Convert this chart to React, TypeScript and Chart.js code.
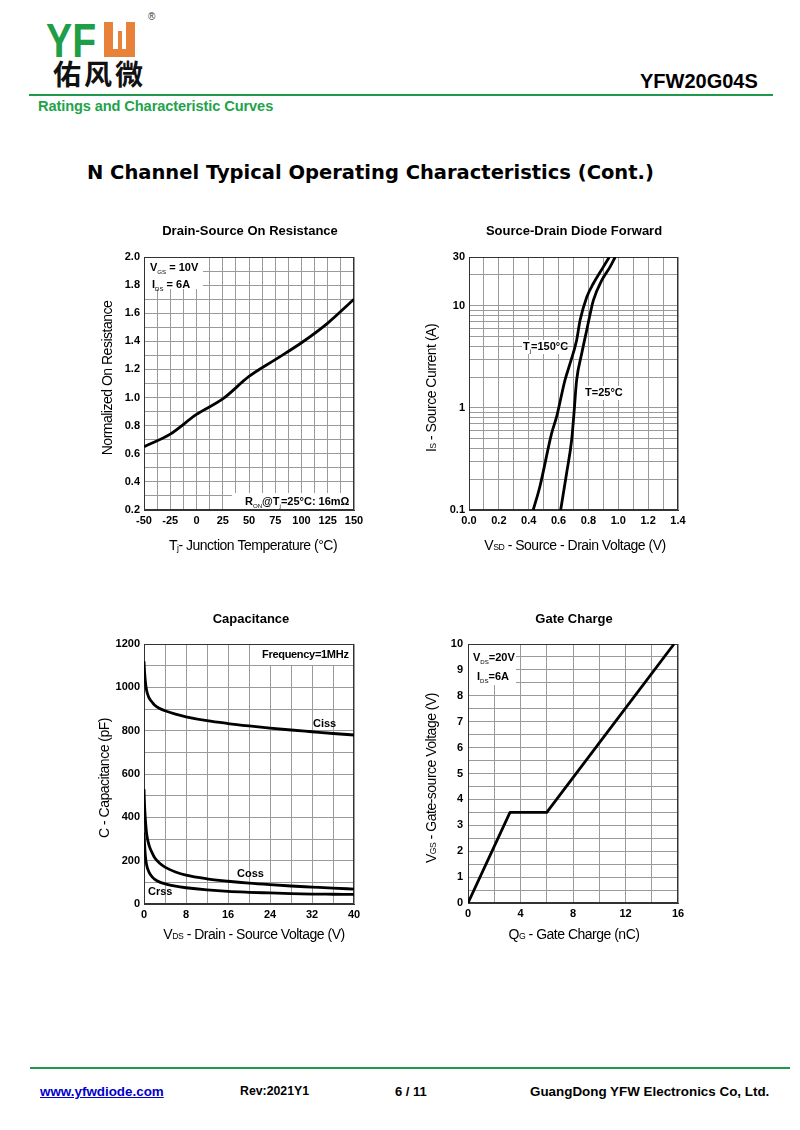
import React, { useEffect, useRef } from 'react';
import { Chart, registerables } from 'chart.js';

Chart.register(...registerables);

const FONT = '"Liberation Sans", Arial, Helvetica, sans-serif';
const GRID = '#9a9a9a';
const GREEN = '#1e9a4b';

// ---------- Chart 1: Drain-Source On Resistance ----------
const ronTemperature = [-50, -25, 0, 25, 50, 75, 100, 125, 150];
const ronNormalized = [0.65, 0.74, 0.88, 0.99, 1.15, 1.27, 1.39, 1.53, 1.7];
const ronXTickLabels = ['-50', '-25', '0', '25', '50', '75', '100', '125', '150'];
const ronYTickLabels = ['0.2', '0.4', '0.6', '0.8', '1.0', '1.2', '1.4', '1.6', '1.8', '2.0'];

// ---------- Chart 2: Source-Drain Diode Forward ----------
const diodeV150 = [0.43, 0.475, 0.553, 0.587, 0.643, 0.677, 0.721, 0.744, 0.789, 0.833, 0.9, 0.94];
const diodeI150 = [0.1, 0.17, 0.56, 0.82, 1.87, 2.72, 4.6, 7.2, 12.2, 16.5, 24, 30];
const diodeV25 = [0.614, 0.654, 0.688, 0.703, 0.721, 0.755, 0.789, 0.833, 0.889, 0.945, 0.979];
const diodeI25 = [0.1, 0.23, 0.49, 0.88, 1.87, 3.4, 5.8, 11.3, 17.7, 24, 30];
const diodeXTickLabels = ['0.0', '0.2', '0.4', '0.6', '0.8', '1.0', '1.2', '1.4'];
const diodeYTickLabels = ['0.1', '1', '10', '30'];
const diodeYGrid = [0.1, 0.2, 0.3, 0.4, 0.5, 0.6, 0.7, 0.8, 0.9, 1, 2, 3, 4, 5, 6, 7, 8, 9, 10, 20, 30];

// ---------- Chart 3: Capacitance ----------
const capVds = [0, 0.1, 0.25, 0.5, 1, 1.6, 2, 3, 4, 6, 8, 12, 16, 20, 24, 28, 32, 36, 40];
const capCiss = [1120, 1075, 1030, 985, 950, 930, 918, 902, 892, 876, 864, 846, 833, 822, 812, 803, 795, 787, 780];
const capCoss = [530, 460, 395, 325, 268, 234, 215, 188, 170, 148, 133, 116, 105, 96, 89, 83, 78, 73, 69];
const capCrss = [330, 280, 225, 180, 145, 124, 115, 101, 93, 82, 75, 65, 58, 54, 51, 48, 46, 45, 44];
const capXTickLabels = ['0', '8', '16', '24', '32', '40'];
const capYTickLabels = ['0', '200', '400', '600', '800', '1000', '1200'];

// ---------- Chart 4: Gate Charge ----------
const gateQ = [0, 3.2, 6.0, 15.7];
const gateV = [0, 3.5, 3.5, 10];
const gateXTickLabels = ['0', '4', '8', '12', '16'];
const gateYTickLabels = ['0', '1', '2', '3', '4', '5', '6', '7', '8', '9', '10'];

type Seg = { t: string; sub?: boolean };
type TextItem = {
  segs: Seg[];
  x: number;
  y: number;
  size: number;
  bold?: boolean;
  rotate?: boolean;
  align?: 'left' | 'center';
  spacing?: number;
  subScale?: number;
  subDy?: number;
};
type Box = [number, number, number, number];

type AxisSpec = {
  min: number;
  max: number;
  grid: number[];
  labels: string[];
  log?: boolean;
  pad: number;
};

type DS = { x: number[]; y: number[]; smooth?: boolean };

type PlotSpec = {
  left: number;
  top: number;
  width: number;
  height: number;
  plot: { l: number; t: number; r: number; b: number };
  x: AxisSpec;
  y: AxisSpec;
  datasets: DS[];
  boxes: Box[];
  texts: TextItem[];
};

function steps(min: number, max: number, step: number): number[] {
  const out: number[] = [];
  const n = Math.round((max - min) / step);
  for (let i = 0; i <= n; i++) out.push(Math.round((min + i * step) * 1e6) / 1e6);
  return out;
}

function labelFor(labels: string[], v: number): string {
  for (const l of labels) {
    if (Math.abs(parseFloat(l) - v) < 1e-6) return l;
  }
  return '';
}

function drawRich(ctx: CanvasRenderingContext2D, it: TextItem, ox: number, oy: number) {
  const size = it.size;
  const subScale = it.subScale ?? 0.62;
  const subDy = it.subDy ?? size * 0.3;
  const fontOf = (sub: boolean) =>
    `${it.bold && !sub ? 'bold ' : ''}${sub ? Math.round(size * subScale * 10) / 10 : size}px ${FONT}`;
  ctx.save();
  (ctx as any).letterSpacing = `${it.spacing ?? 0}px`;
  ctx.translate(it.x - ox, it.y - oy);
  if (it.rotate) ctx.rotate(-Math.PI / 2);
  const widths = it.segs.map((s) => {
    ctx.font = fontOf(!!s.sub);
    return ctx.measureText(s.t).width;
  });
  const total = widths.reduce((a, b) => a + b, 0);
  let cx = it.align === 'center' ? -total / 2 : 0;
  ctx.textBaseline = 'middle';
  ctx.textAlign = 'left';
  ctx.fillStyle = '#000';
  it.segs.forEach((s, i) => {
    ctx.font = fontOf(!!s.sub);
    ctx.fillText(s.t, cx, s.sub ? subDy : 0);
    cx += widths[i];
  });
  ctx.restore();
}

function buildAxis(a: AxisSpec, isX: boolean, spec: PlotSpec) {
  return {
    type: a.log ? 'logarithmic' : 'linear',
    min: a.min,
    max: a.max,
    afterBuildTicks: (s: any) => {
      s.ticks = a.grid.map((v) => ({ value: v }));
    },
    afterFit: (s: any) => {
      if (isX) s.height = spec.top + spec.height - spec.plot.b;
      else s.width = spec.plot.l - spec.left;
    },
    grid: { color: GRID, lineWidth: 1, drawTicks: false },
    border: { display: true, color: '#333', width: 1 },
    ticks: {
      autoSkip: false,
      maxRotation: 0,
      minRotation: 0,
      padding: a.pad,
      color: '#000',
      font: { family: FONT, size: 11, weight: 'bold' },
      callback: (v: any) => labelFor(a.labels, Number(v)),
    },
  };
}

function PlotCanvas({ spec }: { spec: PlotSpec }) {
  const ref = useRef<HTMLCanvasElement | null>(null);
  useEffect(() => {
    if (!ref.current) return;
    const overlay = {
      id: 'overlay',
      beforeDatasetsDraw(chart: any) {
        const ctx = chart.ctx as CanvasRenderingContext2D;
        ctx.save();
        ctx.fillStyle = '#fff';
        spec.boxes.forEach(([x1, y1, x2, y2]) => {
          ctx.fillRect(x1 - spec.left, y1 - spec.top, x2 - x1, y2 - y1);
        });
        const ca = chart.chartArea;
        ctx.strokeStyle = '#333';
        ctx.lineWidth = 1;
        ctx.strokeRect(Math.round(ca.left) + 0.5, Math.round(ca.top) + 0.5, Math.round(ca.right - ca.left) - 1, Math.round(ca.bottom - ca.top) - 1);
        ctx.restore();
      },
      afterDatasetsDraw(chart: any) {
        const ctx = chart.ctx as CanvasRenderingContext2D;
        spec.texts.forEach((t) => drawRich(ctx, t, spec.left, spec.top));
      },
    };
    const cfg: any = {
      type: 'line',
      data: {
        datasets: spec.datasets.map((d) => ({
          data: d.x.map((xv, i) => ({ x: xv, y: d.y[i] })),
          borderColor: '#000',
          borderWidth: 2.8,
          pointRadius: 0,
          fill: false,
          tension: d.smooth ? 0.4 : 0,
          cubicInterpolationMode: d.smooth ? 'monotone' : 'default',
          borderJoinStyle: 'round',
        })),
      },
      options: {
        responsive: false,
        animation: false,
        devicePixelRatio: 1,
        events: [],
        layout: {
          padding: {
            left: 0,
            top: spec.plot.t - spec.top,
            right: spec.left + spec.width - spec.plot.r,
            bottom: 0,
          },
        },
        plugins: {
          legend: { display: false },
          tooltip: { enabled: false },
          title: { display: false },
        },
        scales: {
          x: buildAxis(spec.x, true, spec),
          y: buildAxis(spec.y, false, spec),
        },
      },
      plugins: [overlay],
    };
    const chart = new Chart(ref.current, cfg);
    return () => chart.destroy();
  }, [spec]);
  return (
    <canvas
      ref={ref}
      width={spec.width}
      height={spec.height}
      style={{ position: 'absolute', left: spec.left, top: spec.top, width: spec.width, height: spec.height }}
    />
  );
}

const TITLE_SIZE = 13;
const AX_SIZE = 14;
const AX_SP = -0.5;

const ronSpec: PlotSpec = {
  left: 90,
  top: 215,
  width: 300,
  height: 350,
  plot: { l: 144, t: 257, r: 354, b: 510 },
  x: { min: -50, max: 150, grid: steps(-50, 150, 12.5), labels: ronXTickLabels, pad: 4 },
  y: { min: 0.2, max: 2.0, grid: steps(0.2, 2.0, 0.1), labels: ronYTickLabels, pad: 4 },
  datasets: [{ x: ronTemperature, y: ronNormalized, smooth: true }],
  boxes: [
    [145, 258, 203, 289],
    [232, 493, 353, 509],
  ],
  texts: [
    { segs: [{ t: 'Drain-Source On Resistance' }], x: 250, y: 231, size: TITLE_SIZE, bold: true, align: 'center' },
    { segs: [{ t: 'T' }, { t: 'j', sub: true }, { t: '- Junction Temperature (°C)' }], x: 253, y: 546, size: AX_SIZE, align: 'center', spacing: AX_SP, subDy: 3 },
    { segs: [{ t: 'Normalized On Resistance' }], x: 108, y: 378, size: AX_SIZE, align: 'center', rotate: true, spacing: AX_SP },
    { segs: [{ t: 'V' }, { t: 'GS', sub: true }, { t: ' = 10V' }], x: 150, y: 268, size: 11, bold: true, subScale: 0.55, subDy: 4 },
    { segs: [{ t: 'I' }, { t: 'DS', sub: true }, { t: ' = 6A' }], x: 152, y: 285, size: 11, bold: true, subScale: 0.55, subDy: 4 },
    { segs: [{ t: 'R' }, { t: 'ON', sub: true }, { t: '@T' }, { t: 'j', sub: true }, { t: '=25°C: 16mΩ' }], x: 245, y: 502, size: 11, bold: true, subScale: 0.55, subDy: 4 },
  ],
};

const diodeSpec: PlotSpec = {
  left: 410,
  top: 215,
  width: 300,
  height: 350,
  plot: { l: 469, t: 257, r: 678, b: 510 },
  x: { min: 0, max: 1.4, grid: steps(0, 1.4, 0.1), labels: diodeXTickLabels, pad: 4 },
  y: { min: 0.1, max: 30, grid: diodeYGrid, labels: diodeYTickLabels, log: true, pad: 4 },
  datasets: [
    { x: diodeV150, y: diodeI150, smooth: true },
    { x: diodeV25, y: diodeI25, smooth: true },
  ],
  boxes: [
    [522, 340, 563, 354],
    [584, 386, 624, 400],
  ],
  texts: [
    { segs: [{ t: 'Source-Drain Diode Forward' }], x: 574, y: 231, size: TITLE_SIZE, bold: true, align: 'center' },
    { segs: [{ t: 'V' }, { t: 'SD', sub: true }, { t: ' - Source - Drain Voltage (V)' }], x: 575, y: 546, size: AX_SIZE, align: 'center', spacing: AX_SP, subDy: 2 },
    { segs: [{ t: 'I' }, { t: 'S', sub: true }, { t: ' - Source Current (A)' }], x: 432, y: 388, size: AX_SIZE, align: 'center', rotate: true, spacing: AX_SP, subDy: 2 },
    { segs: [{ t: 'T' }, { t: 'j', sub: true }, { t: '=150°C' }], x: 523, y: 347, size: 11, bold: true, subScale: 0.55, subDy: 4 },
    { segs: [{ t: 'T=25°C' }], x: 585, y: 393, size: 11, bold: true },
  ],
};

const capSpec: PlotSpec = {
  left: 90,
  top: 600,
  width: 300,
  height: 350,
  plot: { l: 144, t: 644, r: 354, b: 904 },
  x: { min: 0, max: 40, grid: steps(0, 40, 4), labels: capXTickLabels, pad: 4 },
  y: { min: 0, max: 1200, grid: steps(0, 1200, 100), labels: capYTickLabels, pad: 4 },
  datasets: [
    { x: capVds, y: capCiss, smooth: true },
    { x: capVds, y: capCoss, smooth: true },
    { x: capVds, y: capCrss, smooth: true },
  ],
  boxes: [[257, 645, 353, 665]],
  texts: [
    { segs: [{ t: 'Capacitance' }], x: 251, y: 619, size: TITLE_SIZE, bold: true, align: 'center' },
    { segs: [{ t: 'V' }, { t: 'DS', sub: true }, { t: ' - Drain - Source Voltage (V)' }], x: 254, y: 935, size: AX_SIZE, align: 'center', spacing: AX_SP, subDy: 2 },
    { segs: [{ t: 'C - Capacitance (pF)' }], x: 105, y: 778, size: AX_SIZE, align: 'center', rotate: true, spacing: AX_SP },
    { segs: [{ t: 'Frequency=1MHz' }], x: 262, y: 655, size: 11, bold: true, spacing: -0.3 },
    { segs: [{ t: 'Ciss' }], x: 313, y: 724, size: 11, bold: true },
    { segs: [{ t: 'Coss' }], x: 237, y: 874, size: 11, bold: true },
    { segs: [{ t: 'Crss' }], x: 148, y: 892, size: 11, bold: true },
  ],
};

const gateSpec: PlotSpec = {
  left: 410,
  top: 600,
  width: 300,
  height: 350,
  plot: { l: 468, t: 644, r: 678, b: 903 },
  x: { min: 0, max: 16, grid: steps(0, 16, 2), labels: gateXTickLabels, pad: 4 },
  y: { min: 0, max: 10, grid: steps(0, 10, 0.5), labels: gateYTickLabels, pad: 5 },
  datasets: [{ x: gateQ, y: gateV }],
  boxes: [[469, 645, 516, 685]],
  texts: [
    { segs: [{ t: 'Gate Charge' }], x: 574, y: 619, size: TITLE_SIZE, bold: true, align: 'center' },
    { segs: [{ t: 'Q' }, { t: 'G', sub: true }, { t: ' - Gate Charge (nC)' }], x: 574, y: 935, size: AX_SIZE, align: 'center', spacing: AX_SP, subDy: 2 },
    { segs: [{ t: 'V' }, { t: 'GS', sub: true }, { t: ' - Gate-source Voltage (V)' }], x: 432, y: 778, size: AX_SIZE, align: 'center', rotate: true, spacing: AX_SP, subDy: 2 },
    { segs: [{ t: 'V' }, { t: 'DS', sub: true }, { t: '=20V' }], x: 473, y: 658, size: 11, bold: true, subScale: 0.55, subDy: 4 },
    { segs: [{ t: 'I' }, { t: 'DS', sub: true }, { t: '=6A' }], x: 477, y: 677, size: 11, bold: true, subScale: 0.55, subDy: 4 },
  ],
};

const abs = (s: React.CSSProperties): React.CSSProperties => ({ position: 'absolute', margin: 0, lineHeight: 1, whiteSpace: 'nowrap', ...s });

export default function App() {
  return (
    <div style={abs({ left: 0, top: 0, width: 800, height: 1130, background: '#fff', fontFamily: FONT, overflow: 'hidden' })}>
      {/* Logo */}
      <div style={abs({ left: 46, top: 15.5, fontSize: 49, fontWeight: 700, color: '#1f9e48', transform: 'scaleX(0.8)', transformOrigin: 'left top' })}>YF</div>
      <div style={abs({ left: 104, top: 22, width: 31, height: 35, background: '#e8823a' })} />
      <div style={abs({ left: 113, top: 22, width: 5, height: 27, background: '#fff' })} />
      <div style={abs({ left: 122, top: 22, width: 4, height: 27, background: '#fff' })} />
      <div style={abs({ left: 118, top: 22, width: 4, height: 9, background: '#fff' })} />
      <div style={abs({ left: 148, top: 12, fontSize: 10, color: '#333' })}>®</div>
      <div style={abs({ left: 53, top: 59, fontSize: 28, fontWeight: 700, letterSpacing: 3, fontFamily: '"Noto Sans CJK SC", sans-serif', color: '#111' })}>佑风微</div>

      <div style={abs({ left: 640, top: 70.5, fontSize: 20, fontWeight: 700, color: '#000' })}>YFW20G04S</div>
      <div style={abs({ left: 29, top: 94, width: 744, height: 2, background: GREEN })} />
      <div style={abs({ left: 38, top: 99, fontSize: 14.6, fontWeight: 700, color: '#22a34a', letterSpacing: -0.1 })}>Ratings and Characteristic Curves</div>

      <div style={abs({ left: 87, top: 163, fontSize: 19.5, fontWeight: 700, color: '#000', fontFamily: '"DejaVu Sans", Verdana, sans-serif' })}>
        N Channel Typical Operating Characteristics (Cont.)
      </div>

      <PlotCanvas spec={ronSpec} />
      <PlotCanvas spec={diodeSpec} />
      <PlotCanvas spec={capSpec} />
      <PlotCanvas spec={gateSpec} />

      {/* Footer */}
      <div style={abs({ left: 30, top: 1067, width: 760, height: 2, background: GREEN })} />
      <div style={abs({ left: 40, top: 1085, fontSize: 13.4, fontWeight: 700, color: '#0000cc', textDecoration: 'underline' })}>www.yfwdiode.com</div>
      <div style={abs({ left: 240, top: 1085, fontSize: 12.3, fontWeight: 700, color: '#000' })}>Rev:2021Y1</div>
      <div style={abs({ left: 395, top: 1085, fontSize: 13, fontWeight: 700, color: '#000' })}>6 / 11</div>
      <div style={abs({ left: 530, top: 1085, fontSize: 13.4, fontWeight: 700, color: '#000' })}>GuangDong YFW Electronics Co, Ltd.</div>
    </div>
  );
}
